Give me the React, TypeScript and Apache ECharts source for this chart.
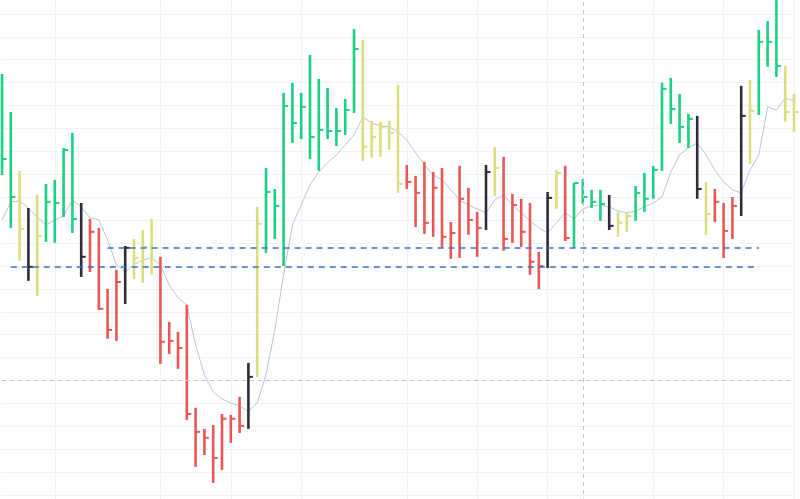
import React, { useEffect, useRef } from "react";
import * as echarts from "echarts";

const categories: string[] = Array.from({ length: 91 }, (_, i) => String(i + 1));

const highs = [
  37.38, 35.72, 33.15, 31.53, 32.1, 32.58, 32.76, 34.15, 34.81, 31.75,
  31.05, 30.66, 28.0, 28.83, 29.87, 30.18, 30.57, 31.05, 29.4, 26.56,
  26.12, 27.3, 22.81, 21.89, 22.06, 22.54, 22.5, 23.29, 24.77, 31.58,
  33.28, 32.36, 36.55, 36.99, 36.55, 38.21, 37.16, 36.77, 35.9, 36.29,
  39.34, 38.86, 35.33, 35.29, 35.33, 36.9, 33.41, 32.93, 33.54, 33.1,
  33.28, 30.92, 33.37, 32.41, 31.36, 33.41, 34.2, 33.76, 32.14, 31.93,
  31.75, 29.61, 32.23, 33.19, 33.37, 32.62, 32.8, 32.32, 32.32, 32.1,
  31.36, 31.32, 32.49, 33.06, 33.37, 36.99, 37.21, 36.51, 35.64, 35.55,
  32.67, 32.36, 31.75, 32.01, 36.86, 37.12, 39.3, 39.69, 40.6, 37.73,
  36.51,
];

const lows = [
  32.97, 30.66, 29.22, 28.35, 27.69, 30.05, 30.01, 31.14, 30.44, 28.52,
  28.74, 27.08, 25.82, 25.73, 27.34, 28.43, 28.26, 28.61, 24.73, 25.16,
  24.51, 22.28, 20.23, 20.75, 19.53, 20.1, 21.28, 21.71, 21.89, 24.16,
  29.57, 30.18, 29.0, 34.37, 34.54, 33.67, 33.15, 34.54, 34.24, 34.72,
  35.68, 33.58, 33.72, 33.76, 34.06, 32.19, 32.36, 30.7, 30.4, 30.27,
  29.79, 29.31, 29.35, 30.36, 29.4, 30.57, 32.06, 29.66, 30.01, 29.83,
  28.61, 27.99, 28.91, 31.49, 30.09, 29.79, 31.71, 31.53, 30.97, 30.57,
  30.27, 30.49, 30.97, 31.36, 31.93, 33.15, 35.2, 34.37, 34.15, 31.93,
  30.36, 30.92, 29.35, 30.18, 31.18, 33.45, 35.59, 37.69, 37.25, 35.29,
  34.85,
];

const closes = [
  33.67, 32.01, 30.62, 28.96, 30.31, 31.8, 31.75, 34.06, 31.05, 29.4,
  30.49, 27.13, 26.21, 28.3, 29.79, 29.35, 29.83, 28.96, 25.69, 25.73,
  25.42, 22.54, 21.76, 21.5, 20.62, 22.33, 22.33, 22.02, 24.16, 30.84,
  32.23, 31.62, 35.98, 35.24, 35.94, 34.63, 34.94, 34.89, 34.89, 35.81,
  38.47, 34.2, 34.63, 35.07, 34.81, 32.58, 32.67, 32.19, 30.88, 32.41,
  30.27, 30.44, 31.93, 31.01, 30.66, 33.1, 33.28, 30.18, 31.66, 30.49,
  29.18, 29.0, 31.97, 33.06, 30.22, 32.62, 32.01, 31.8, 31.71, 30.75,
  30.88, 31.18, 32.19, 31.93, 33.19, 36.73, 35.85, 35.07, 35.42, 32.36,
  31.27, 31.8, 30.53, 31.62, 35.55, 35.77, 38.78, 38.78, 37.73, 35.72,
  35.72,
];

const maValues = [
  31.01, 31.8, 31.84, 31.53, 31.14, 30.79, 31.01, 31.18, 31.88, 31.58,
  31.1, 31.01, 30.14, 29.05, 28.74, 29.05, 29.26, 29.35, 29.05, 28.17,
  27.61, 27.3, 25.55, 24.25, 23.5, 23.2, 23.02, 22.89, 22.67, 23.02,
  24.25, 26.21, 28.61, 30.79, 31.66, 32.54, 33.1, 33.5, 33.85, 34.28,
  34.72, 35.5, 35.24, 35.11, 35.07, 34.85, 34.5, 33.93, 33.41, 32.97,
  32.76, 32.32, 31.88, 31.66, 31.49, 31.32, 31.88, 32.1, 31.66, 31.32,
  30.97, 30.66, 30.44, 30.88, 31.32, 31.05, 31.49, 31.62, 31.66, 31.58,
  31.4, 31.32, 31.4, 31.58, 31.75, 32.01, 33.1, 33.85, 34.15, 34.37,
  33.85, 33.19, 32.67, 32.32, 32.19, 33.19, 33.85, 35.94, 35.81, 36.33,
  36.2,
];

// g = green, r = red, y = yellow, k = black
const colorTypes = [
  "g", "g", "y", "k", "y", "g", "g", "g", "g", "k",
  "r", "r", "r", "r", "k", "y", "y", "y", "r", "r",
  "r", "r", "r", "r", "r", "r", "r", "r", "k", "y",
  "g", "g", "g", "g", "g", "g", "g", "g", "g", "g",
  "g", "y", "y", "y", "y", "y", "r", "r", "r", "r",
  "r", "r", "r", "r", "r", "k", "y", "r", "r", "r",
  "r", "r", "k", "y", "r", "g", "g", "g", "g", "k",
  "y", "y", "g", "g", "g", "g", "g", "g", "g", "k",
  "y", "r", "r", "r", "k", "y", "g", "g", "g", "y",
  "y",
];

const splitIndices = [6, 18, 26, 34, 46, 54, 62, 74, 82, 90];

const levelUpper = 29.79;
const levelLower = 28.98;
const crossX = "67";
const crossY = 24;

const palette: Record<string, string> = {
  g: "#1dcf81",
  r: "#ea5656",
  y: "#dcdd7e",
  k: "#2b2e3a",
};

export default function App() {
  const ref = useRef<HTMLDivElement>(null);
  useEffect(() => {
    document.body.style.margin = "0";
    document.body.style.overflow = "hidden";
    document.documentElement.style.overflow = "hidden";
    if (!ref.current) return;
    const chart = echarts.init(ref.current, undefined, { renderer: "svg" });
    const ohlc = categories.map((c, i) => [i, lows[i], highs[i], closes[i]]);
    const splitSet = new Set(splitIndices);
    const dash = { color: "#3d6fc0", width: 1.6, type: [6, 5] };
    const cross = { color: "#c4c4c4", width: 1, type: [4, 4] };
    chart.setOption({
      animation: false,
      backgroundColor: "#ffffff",
      grid: { left: 2, right: 6, top: 0, bottom: 0, containLabel: false },
      xAxis: {
        type: "category",
        data: categories,
        boundaryGap: false,
        axisLine: { show: false },
        axisTick: { show: false },
        axisLabel: { show: false },
        splitLine: {
          show: true,
          interval: (index: number) => splitSet.has(index),
          lineStyle: { color: "#f1f2f4", width: 1 },
        },
      },
      yAxis: {
        type: "value",
        min: 18,
        max: 41,
        interval: 1,
        axisLine: { show: false },
        axisTick: { show: false },
        axisLabel: { show: false },
        splitLine: { show: true, lineStyle: { color: "#f1f2f4", width: 1 } },
      },
      series: [
        {
          type: "line",
          data: maValues,
          symbol: "none",
          smooth: false,
          z: 1,
          lineStyle: { color: "#b7c3df", width: 1 },
          markLine: {
            silent: true,
            symbol: "none",
            label: { show: false },
            data: [
              [
                { coord: ["13", levelUpper], lineStyle: dash },
                { coord: ["87", levelUpper] },
              ],
              [
                { coord: ["2", levelLower], lineStyle: dash },
                { coord: ["87", levelLower] },
              ],
              { xAxis: crossX, lineStyle: cross },
              { yAxis: crossY, lineStyle: cross },
            ],
          },
        },
        {
          type: "custom",
          z: 2,
          data: ohlc,
          encode: { x: 0, y: [1, 2, 3] },
          renderItem: (params: any, api: any) => {
            const idx = api.value(0);
            const lowP = api.coord([idx, api.value(1)]);
            const highP = api.coord([idx, api.value(2)]);
            const closeP = api.coord([idx, api.value(3)]);
            const color = palette[colorTypes[params.dataIndex]];
            return {
              type: "group",
              children: [
                {
                  type: "line",
                  shape: { x1: highP[0], y1: highP[1], x2: lowP[0], y2: lowP[1] },
                  style: { stroke: color, lineWidth: 2.6 },
                },
                {
                  type: "line",
                  shape: { x1: closeP[0], y1: closeP[1], x2: closeP[0] + 4.5, y2: closeP[1] },
                  style: { stroke: color, lineWidth: 2 },
                },
              ],
            };
          },
        },
      ],
    });
    return () => chart.dispose();
  }, []);
  return (
    <div
      ref={ref}
      style={{ position: "absolute", left: 0, top: -9, width: 800, height: 527 }}
    />
  );
}
